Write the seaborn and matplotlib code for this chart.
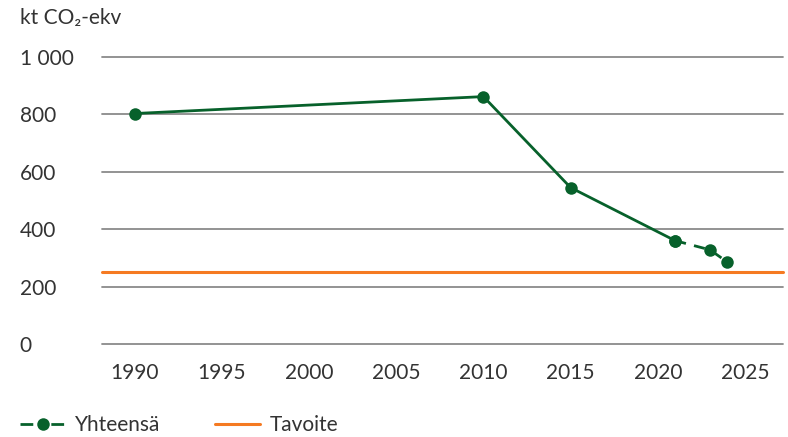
import pandas as pd
import numpy as np
import seaborn as sns
import matplotlib.pyplot as plt
from matplotlib.lines import Line2D

# --- data ---
years = [1990, 2010, 2015, 2021, 2023, 2024]
total = [803, 862, 545, 360, 328, 285]
first_projection = 3  # dashed from this point on
target = 250
x_ticks = [1990, 1995, 2000, 2005, 2010, 2015, 2020, 2025]
y_ticks = [0, 200, 400, 600, 800, 1000]
y_tick_labels = ['0', '200', '400', '600', '800', '1 000']
unit_label = 'kt CO₂-ekv'
series_names = ['Yhteensä', 'Tavoite']

green = '#07612b'
orange = '#f57a22'
grid_col = '#8a8a8a'
text_col = '#333333'

sns.set_style('white')
plt.rcParams['font.family'] = ['Lato', 'DejaVu Sans']
plt.rcParams['text.color'] = text_col

df = pd.DataFrame({'year': years, 'value': total})
hist = df.iloc[:first_projection + 1]
proj = df.iloc[first_projection:]

fig = plt.figure(figsize=(7.88, 4.37), dpi=100)
ax = fig.add_axes([0.129, 0.2128, 0.865, 0.6568])

for y in y_ticks:
    ax.axhline(y, color=grid_col, lw=1.3, zorder=1)

ax.axhline(target, color=orange, lw=2.2, zorder=2)

sns.lineplot(data=hist, x='year', y='value', color=green, lw=2, ax=ax,
             marker='o', markersize=9, markeredgewidth=0, zorder=3)
sns.lineplot(data=proj, x='year', y='value', color=green, lw=2, ax=ax,
             marker='o', markersize=9, markeredgewidth=0, zorder=3)
ax.lines[-1].set_dashes([4, 3])
for l in ax.lines:
    l.set_clip_on(False)

ax.set_xlim(1988.1, 2027.2)
ax.set_ylim(0, 1000)
ax.set_xticks(x_ticks)
ax.set_yticks(y_ticks)
ax.set_yticklabels(y_tick_labels, ha='left')
ax.tick_params(axis='y', length=0, pad=59, labelsize=15, colors=text_col)
ax.tick_params(axis='x', length=0, pad=14, labelsize=15, colors=text_col)
ax.set_xlabel('')
ax.set_ylabel('')
sns.despine(ax=ax, left=True, bottom=True)

fig.text(20 / 788, 1 - 18 / 437, unit_label, fontsize=15, va='center', ha='left')

handles = [
    Line2D([], [], color=green, lw=2, dashes=[4.6, 6.5], marker='o',
           markersize=9, markeredgewidth=0),
    Line2D([], [], color=orange, lw=2.2),
]
fig.legend(handles, series_names, loc='center left', bbox_to_anchor=(0.012, 1 - 425 / 437),
           ncol=2, frameon=False, fontsize=15, handlelength=2.2, handletextpad=0.45,
           columnspacing=2.6, borderpad=0)

fig.savefig('out.png', dpi=100)
